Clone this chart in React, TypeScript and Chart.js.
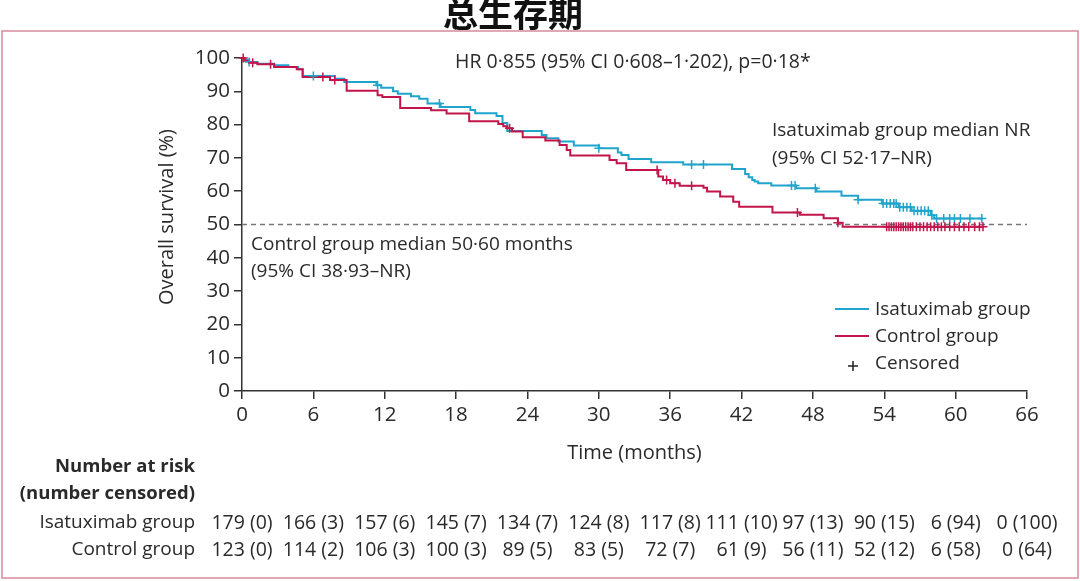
import React, { useEffect, useRef } from "react";
import { Chart, registerables } from "chart.js";

Chart.register(...registerables);

const chartTitle = "总生存期";
const hrText = "HR 0·855 (95% CI 0·608–1·202), p=0·18*";
const isaMedianText = ["Isatuximab group median NR", "(95% CI 52·17–NR)"];
const ctrlMedianText = ["Control group median 50·60 months", "(95% CI 38·93–NR)"];
const legendLabels = ["Isatuximab group", "Control group", "Censored"];
const xAxisTitle = "Time (months)";
const yAxisTitle = "Overall survival (%)";
const riskHeader = ["Number at risk", "(number censored)"];
const riskGroups = ["Isatuximab group", "Control group"];

// Kaplan–Meier step points (time in months, survival %)
const isaTimes = [0, 0.2, 0.6, 1.3, 2.7, 3.9, 4.7, 5.1, 7.8, 8.6, 11.3, 11.7, 12.7, 13.1, 14.2, 14.9, 15.6, 16.7, 19.2, 19.6, 21.4, 21.9, 22.3, 25.2, 25.6, 26.6, 27.9, 30.0, 31.6, 31.9, 32.5, 34.4, 37.1, 41.2, 42.3, 42.6, 42.9, 43.1, 43.4, 44.5, 46.6, 48.3, 50.4, 51.8, 53.8, 55.2, 56.3, 57.9, 58.2, 62.3];
const isaSurv = [100, 99.4, 98.8, 98.3, 97.8, 97.3, 96.6, 94.6, 93.8, 92.8, 91.8, 91.1, 90.0, 89.3, 88.5, 87.8, 86.3, 85.3, 84.4, 83.4, 82.6, 80.5, 78.1, 76.9, 75.9, 74.9, 73.7, 72.9, 71.6, 70.9, 69.7, 68.7, 68.0, 66.7, 65.2, 64.2, 63.4, 62.9, 62.4, 61.7, 60.9, 59.9, 58.6, 57.4, 56.3, 55.2, 54.1, 52.8, 51.8, 51.8];

const ctrlTimes = [0, 0.2, 0.6, 1.3, 2.7, 4.6, 5.1, 7.4, 8.8, 11.4, 11.8, 13.3, 15.9, 17.2, 19.1, 21.55, 21.97, 22.3, 22.7, 23.6, 25.5, 26.7, 27.3, 27.6, 30.9, 31.5, 32.3, 35.0, 35.4, 36.0, 36.8, 38.8, 39.1, 40.2, 41.3, 41.8, 44.6, 46.9, 48.9, 50.1, 50.5, 62.3];
const ctrlSurv = [100, 99.2, 98.6, 98.1, 97.3, 96.6, 94.3, 93.4, 90.2, 88.8, 88.3, 85.0, 84.3, 83.3, 81.0, 80.2, 79.5, 78.9, 77.9, 76.2, 75.2, 73.9, 72.4, 70.7, 69.4, 68.4, 66.4, 64.4, 63.4, 62.4, 61.6, 61.0, 59.9, 58.4, 56.8, 55.3, 53.6, 52.9, 51.9, 50.5, 49.3, 49.3];

// Censoring times (months)
const isaCensored = [0.6, 6.0, 11.4, 16.6, 30.0, 37.8, 38.8, 46.2, 46.5, 48.2, 51.8, 53.9, 54.2, 54.5, 54.8, 55.0, 55.3, 55.6, 55.9, 56.2, 56.5, 56.8, 57.1, 57.4, 57.7, 58.0, 58.4, 59.0, 59.5, 59.9, 60.4, 61.2, 62.2];
const ctrlCensored = [0.1, 0.9, 2.4, 6.8, 7.8, 22.5, 34.9, 35.7, 36.4, 37.8, 46.7, 50.1, 54.2, 54.4, 54.6, 54.8, 55.0, 55.2, 55.4, 55.6, 55.8, 56.0, 56.2, 56.4, 56.7, 57.0, 57.3, 57.6, 57.9, 58.2, 58.5, 58.8, 59.1, 59.5, 59.9, 60.3, 60.7, 61.1, 61.6, 62.0, 62.3];

const medianLine = [50, 50];
const medianLineX = [0, 66];

const xTicks = [0, 6, 12, 18, 24, 30, 36, 42, 48, 54, 60, 66];
const isaRisk = ["179 (0)", "166 (3)", "157 (6)", "145 (7)", "134 (7)", "124 (8)", "117 (8)", "111 (10)", "97 (13)", "90 (15)", "6 (94)", "0 (100)"];
const ctrlRisk = ["123 (0)", "114 (2)", "106 (3)", "100 (3)", "89 (5)", "83 (5)", "72 (7)", "61 (9)", "56 (11)", "52 (12)", "6 (58)", "0 (64)"];

const CYAN = "#21a4cc";
const RED = "#c2154b";
const FONT = "'Open Sans', 'Noto Sans', sans-serif";
const TEXT = "#2a2a2a";

function survAt(times: number[], surv: number[], t: number): number {
  let s = surv[0];
  for (let i = 0; i < times.length; i++) {
    if (times[i] <= t) s = surv[i];
  }
  return s;
}

const overlayPlugin = {
  id: "overlay",
  afterDraw(chart: any) {
    const { ctx } = chart;
    const x = chart.scales.x;
    ctx.save();
    // frame
    ctx.strokeStyle = "#d98a9e";
    ctx.lineWidth = 1.5;
    ctx.strokeRect(2, 31, 1076, 547);
    // title
    ctx.fillStyle = "#111";
    ctx.font = "bold 35px 'Noto Sans CJK SC'";
    ctx.textAlign = "center";
    ctx.textBaseline = "middle";
    ctx.fillText(chartTitle, 513, 14);

    ctx.fillStyle = TEXT;
    ctx.font = `19.5px ${FONT}`;
    ctx.textAlign = "left";
    ctx.fillText(hrText, 455, 62);
    ctx.font = `19px ${FONT}`;
    ctx.fillText(isaMedianText[0], 772, 131);
    ctx.fillText(isaMedianText[1], 772, 159);
    ctx.fillText(ctrlMedianText[0], 251, 245);
    ctx.fillText(ctrlMedianText[1], 251, 272);

    // legend
    const legY = [310, 337, 364];
    ctx.lineWidth = 2;
    ctx.strokeStyle = CYAN;
    ctx.beginPath(); ctx.moveTo(835, legY[0] - 1); ctx.lineTo(869, legY[0] - 1); ctx.stroke();
    ctx.strokeStyle = RED;
    ctx.beginPath(); ctx.moveTo(835, legY[1] - 1); ctx.lineTo(869, legY[1] - 1); ctx.stroke();
    ctx.strokeStyle = "#222";
    ctx.lineWidth = 1.5;
    ctx.beginPath();
    ctx.moveTo(848, legY[2] + 2); ctx.lineTo(858, legY[2] + 2);
    ctx.moveTo(853, legY[2] - 3); ctx.lineTo(853, legY[2] + 7);
    ctx.stroke();
    ctx.fillStyle = TEXT;
    legendLabels.forEach((l, i) => ctx.fillText(l, 875, legY[i]));

    // axis titles
    ctx.font = `20px ${FONT}`;
    ctx.textAlign = "center";
    ctx.fillText(xAxisTitle, (x.left + x.right) / 2, 453);
    ctx.save();
    ctx.translate(167, 217);
    ctx.rotate(-Math.PI / 2);
    ctx.fillText(yAxisTitle, 0, 0);
    ctx.restore();

    // risk table
    ctx.textAlign = "right";
    ctx.font = `bold 18.5px ${FONT}`;
    ctx.fillText(riskHeader[0], 195, 467);
    ctx.fillText(riskHeader[1], 195, 494);
    ctx.font = `19px ${FONT}`;
    ctx.fillText(riskGroups[0], 195, 523);
    ctx.fillText(riskGroups[1], 195, 550);
    ctx.textAlign = "center";
    ctx.font = `19.5px ${FONT}`;
    xTicks.forEach((t, i) => {
      const px = x.getPixelForValue(t);
      ctx.fillText(isaRisk[i], px, 523);
      ctx.fillText(ctrlRisk[i], px, 550);
    });
    ctx.restore();
  },
};

export default function App() {
  const ref = useRef<HTMLCanvasElement | null>(null);
  useEffect(() => {
    if (!ref.current) return;
    const isaLine = isaTimes.map((t, i) => ({ x: t, y: isaSurv[i] }));
    const ctrlLine = ctrlTimes.map((t, i) => ({ x: t, y: ctrlSurv[i] }));
    const isaC = isaCensored.map((t) => ({ x: t, y: survAt(isaTimes, isaSurv, t) }));
    const ctrlC = ctrlCensored.map((t) => ({ x: t, y: survAt(ctrlTimes, ctrlSurv, t) }));
    const med = medianLineX.map((t, i) => ({ x: t, y: medianLine[i] }));
    const chart = new Chart(ref.current, {
      type: "line",
      data: {
        datasets: [
          { label: "ctrlCensored", data: ctrlC, showLine: false, pointStyle: "cross", pointRadius: 4.5, pointBorderWidth: 1.5, borderColor: RED, backgroundColor: RED, clip: false } as any,
          { label: "isaCensored", data: isaC, showLine: false, pointStyle: "cross", pointRadius: 4.5, pointBorderWidth: 1.5, borderColor: CYAN, backgroundColor: CYAN, clip: false } as any,
          { label: "Control group", data: ctrlLine, stepped: "before", borderColor: RED, borderWidth: 2, pointRadius: 0, fill: false, clip: false } as any,
          { label: "Isatuximab group", data: isaLine, stepped: "before", borderColor: CYAN, borderWidth: 2, pointRadius: 0, fill: false, clip: false } as any,
          { label: "median", data: med, borderColor: "#777", borderWidth: 1.5, borderDash: [5, 4], pointRadius: 0, fill: false } as any,
        ],
      },
      options: {
        responsive: false,
        animation: false,
        devicePixelRatio: 1,
        events: [],
        layout: { padding: { left: 0, right: 53, top: 58, bottom: 0 } },
        plugins: { legend: { display: false }, tooltip: { enabled: false }, title: { display: false } },
        scales: {
          x: {
            type: "linear",
            min: 0,
            max: 66,
            afterFit: (s: any) => { s.height = 190; },
            ticks: { stepSize: 6, autoSkip: false, maxRotation: 0, color: TEXT, padding: 4, font: { family: FONT, size: 20.5 } },
            grid: { drawOnChartArea: false, drawTicks: true, tickLength: 8, color: "#333", lineWidth: 1.5 },
            border: { display: true, color: "#333", width: 1.5 },
          },
          y: {
            type: "linear",
            min: 0,
            max: 100,
            afterFit: (s: any) => { s.width = 242; },
            ticks: { stepSize: 10, color: TEXT, padding: 4, font: { family: FONT, size: 20.5 } },
            grid: { drawOnChartArea: false, drawTicks: true, tickLength: 8, color: "#333", lineWidth: 1.5 },
            border: { display: true, color: "#333", width: 1.5 },
          },
        },
      } as any,
      plugins: [overlayPlugin],
    });
    return () => chart.destroy();
  }, []);
  return (
    <div style={{ position: "absolute", left: 0, top: 0, width: 1080, height: 581, background: "#fff" }}>
      <canvas ref={ref} width={1080} height={581} style={{ display: "block" }} />
    </div>
  );
}
